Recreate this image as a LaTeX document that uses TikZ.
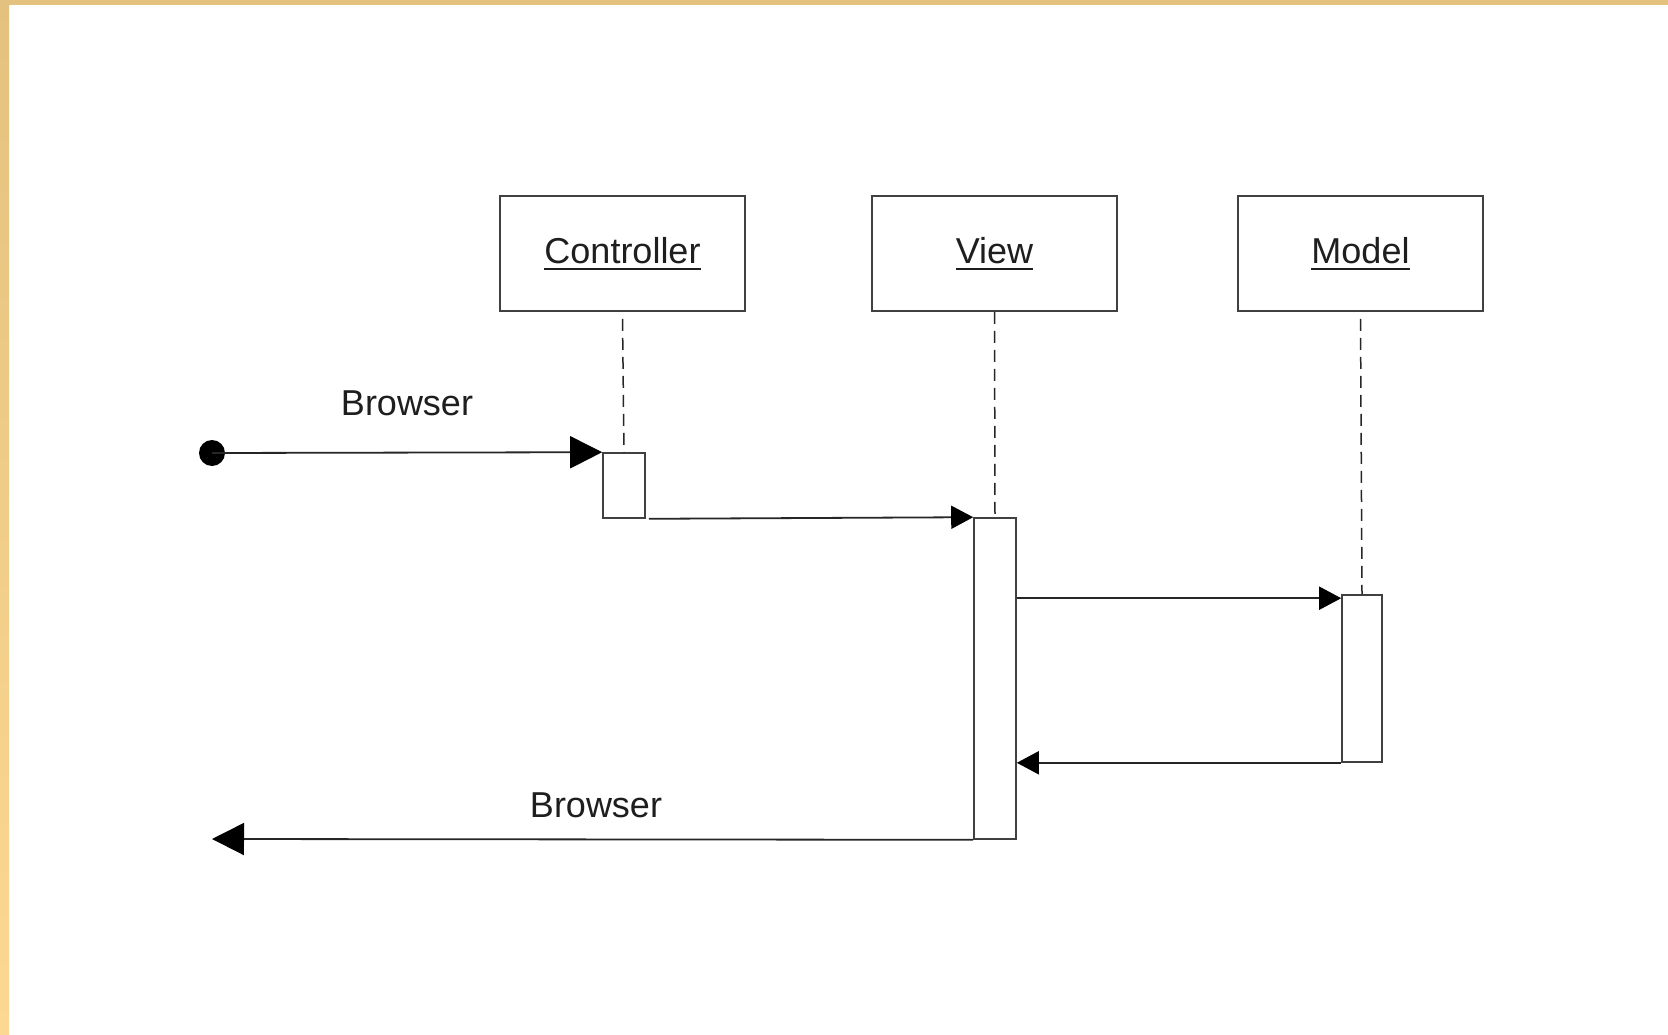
\documentclass[tikz,border=0pt]{standalone}
\usepackage{fontspec}
\setmainfont{Liberation Sans}
\usetikzlibrary{arrows.meta}
\definecolor{linec}{HTML}{262626}
\definecolor{boxc}{HTML}{404040}
\definecolor{bandtop}{HTML}{E3C27F}
\definecolor{bandbot}{HTML}{FDD892}
\definecolor{textc}{HTML}{1E1E1E}
\newcommand\myul[1]{\setbox0\hbox{#1}\rlap{\rule[-6pt]{\wd0}{1.8pt}}\box0}
\begin{document}
\begin{tikzpicture}[x=1pt,y=-1pt,
  every node/.style={font=\fontsize{36}{43}\selectfont, text=textc},
  objbox/.style={draw=boxc, line width=1.8pt, minimum width=245pt, minimum height=115pt, inner sep=0pt},
  actbox/.style={draw=boxc, line width=1.6pt, fill=white, inner sep=0pt},
  lifeline/.style={draw=linec, line width=1.5pt, dash pattern=on 12pt off 7pt},
  msg/.style={draw=linec, line width=1.8pt, -{Triangle[length=22pt,width=23pt,fill=black,color=black]}},
  bigmsg/.style={draw=linec, line width=1.8pt, -{Triangle[length=32pt,width=32pt,fill=black,color=black]}},
  lbl/.style={anchor=base, inner sep=0pt}]
\useasboundingbox (0,0) rectangle (1668,1035);
\fill[white] (0,0) rectangle (1668,1035);
\fill[bandtop] (0,0) rectangle (1668,5);
\shade[top color=bandtop, bottom color=bandbot] (0,0) rectangle (9,1035);

% objects
\node[objbox] (ctrl) at (622.5,253.5) {\myul{Controller}};
\node[objbox] (view) at (994.5,253.5) {\myul{View}};
\node[objbox] (model) at (1360.5,253.5) {\myul{Model}};

% activation boxes
\node[actbox, minimum width=42pt, minimum height=65pt] (cact) at (624,485.5) {};
\node[actbox, minimum width=42pt, minimum height=321pt] (vact) at (995,678.5) {};
\node[actbox, minimum width=40pt, minimum height=167pt] (mact) at (1362,678.5) {};

% lifelines
\draw[lifeline] ([yshift=-7pt]ctrl.south) -- (cact.north);
\draw[lifeline] (view.south) -- (vact.north);
\draw[lifeline] ([yshift=-7pt]model.south) -- (mact.north);

% start dot
\node[circle, fill=black, minimum size=26pt, inner sep=0pt] (start) at (212,453) {};
\coordinate (endpt) at (212,839);

% messages
\draw[bigmsg] (start.center) -- (cact.north west);
\draw[msg] ([xshift=3pt]cact.south east) -- (vact.north west);
\draw[msg] ([yshift=-4pt]vact.north east |- mact.north) -- ([yshift=-4pt]mact.north west);
\draw[msg] (mact.south west) -- (vact.east |- mact.south);
\draw[bigmsg] (vact.south west) -- (endpt);

% labels
\node[lbl] (b1) at (407,415) {Browser};
\node[lbl] (b2) at (596,817) {Browser};
\end{tikzpicture}
\end{document}
